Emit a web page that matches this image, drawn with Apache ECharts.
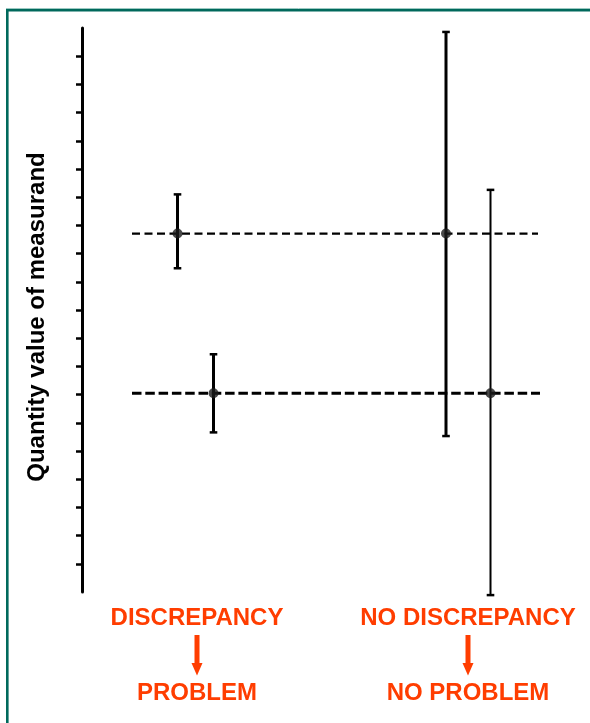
<!DOCTYPE html>
<html>
<head>
<meta charset="utf-8">
<script src="https://cdn.jsdelivr.net/npm/echarts@6/dist/echarts.min.js"></script>
<style>
html,body{margin:0;padding:0;background:#fff;}
#c{width:590px;height:723px;}
</style>
</head>
<body>
<div id="c"></div>
<script>
// ---- data ----
const categories = ['DISCREPANCY', 'NO DISCREPANCY'];
const outcomes = ['PROBLEM', 'NO PROBLEM'];
const xPositions = [1.91, 2.63, 7.28, 8.17];
const centreValues = [12.71, 7.05, 12.71, 7.05];
const lowerValues = [11.48, 5.66, 5.53, -0.11];
const upperValues = [14.10, 8.43, 19.86, 14.26];
const referenceValues = [12.71, 7.05];
const referenceStart = [1.0, 1.0];
const referenceEnd = [9.12, 9.16];
const yTicks = [1,2,3,4,5,6,7,8,9,10,11,12,13,14,15,16,17,18,19];
const yTitle = 'Quantity value of measurand';

// ---- styles ----
const barWidths = [3, 3, 3, 2];
const refWidths = [2.3, 3];
const refDashes = [[8, 4.5], [9.5, 3.8]];
const ORANGE = '#ff3d00';

const chart = echarts.init(document.getElementById('c'), null, {renderer: 'canvas'});

const errData = xPositions.map((x, i) => [x, lowerValues[i], upperValues[i], i]);
const ptData = xPositions.map((x, i) => [x, centreValues[i]]);

const refSeries = referenceValues.map((v, i) => ({
  type: 'line',
  data: [[referenceStart[i], v], [referenceEnd[i], v]],
  symbol: 'none',
  silent: true,
  lineStyle: {color: '#000', width: refWidths[i], type: refDashes[i]},
  z: 2
}));

function arrow(cx) {
  return {
    type: 'group',
    children: [
      {type: 'rect', shape: {x: cx - 2.5, y: 635, width: 5, height: 30}, style: {fill: ORANGE}},
      {type: 'polygon', shape: {points: [[cx - 5.5, 663], [cx + 5.5, 663], [cx, 675.5]]}, style: {fill: ORANGE}}
    ]
  };
}
const labelCentres = [197, 468];

const option = {
  backgroundColor: '#fff',
  animation: false,
  grid: {left: 82, right: 8, top: 28, bottom: 131},
  xAxis: {type: 'value', min: 0, max: 10, show: false},
  yAxis: {
    type: 'value', min: 0, max: 20, interval: 1,
    splitLine: {show: false},
    axisLabel: {show: false},
    axisLine: {show: true, lineStyle: {color: '#000', width: 3}},
    axisTick: {show: true, customValues: yTicks, length: 6, lineStyle: {color: '#000', width: 2.5}},
    name: yTitle,
    nameLocation: 'middle',
    nameRotate: 90,
    nameGap: 33,
    nameTextStyle: {fontFamily: 'Liberation Sans, Arial, sans-serif', fontWeight: 'bold', fontSize: 24, color: '#000', padding: [0, 14, 0, 0]}
  },
  series: [
    ...refSeries,
    {
      type: 'custom',
      clip: false,
      silent: true,
      z: 3,
      data: errData,
      renderItem: function (params, api) {
        const x = api.value(0);
        const lo = api.coord([x, api.value(1)]);
        const hi = api.coord([x, api.value(2)]);
        const w = barWidths[api.value(3)];
        const cap = 3.8;
        const st = {stroke: '#000', lineWidth: w};
        return {
          type: 'group',
          children: [
            {type: 'line', shape: {x1: lo[0], y1: lo[1], x2: hi[0], y2: hi[1]}, style: st},
            {type: 'line', shape: {x1: hi[0] - cap, y1: hi[1], x2: hi[0] + cap, y2: hi[1]}, style: {stroke: '#000', lineWidth: 2.5}},
            {type: 'line', shape: {x1: lo[0] - cap, y1: lo[1], x2: lo[0] + cap, y2: lo[1]}, style: {stroke: '#000', lineWidth: 2.5}}
          ]
        };
      }
    },
    {
      type: 'scatter',
      data: ptData,
      symbol: 'circle',
      symbolSize: 10,
      itemStyle: {color: '#1c1c1c'},
      silent: true,
      z: 4
    }
  ],
  graphic: [
    {type: 'rect', shape: {x: 7.3, y: 10.3, width: 700, height: 800}, style: {fill: 'none', stroke: '#00695c', lineWidth: 2.6}},
    {type: 'line', shape: {x1: 6, y1: 8.5, x2: 600, y2: 8.5}, style: {stroke: '#9cc9c2', lineWidth: 1}},
    ...categories.map((t, i) => ({type: 'text', x: labelCentres[i], y: 618.5, style: {text: t, fill: ORANGE, font: 'bold 24px "Liberation Sans", Arial, sans-serif', textAlign: 'center', textVerticalAlign: 'middle'}})),
    ...outcomes.map((t, i) => ({type: 'text', x: labelCentres[i], y: 693.5, style: {text: t, fill: ORANGE, font: 'bold 24px "Liberation Sans", Arial, sans-serif', textAlign: 'center', textVerticalAlign: 'middle'}})),
    ...labelCentres.map(cx => arrow(cx))
  ]
};
chart.setOption(option);
</script>
</body>
</html>
